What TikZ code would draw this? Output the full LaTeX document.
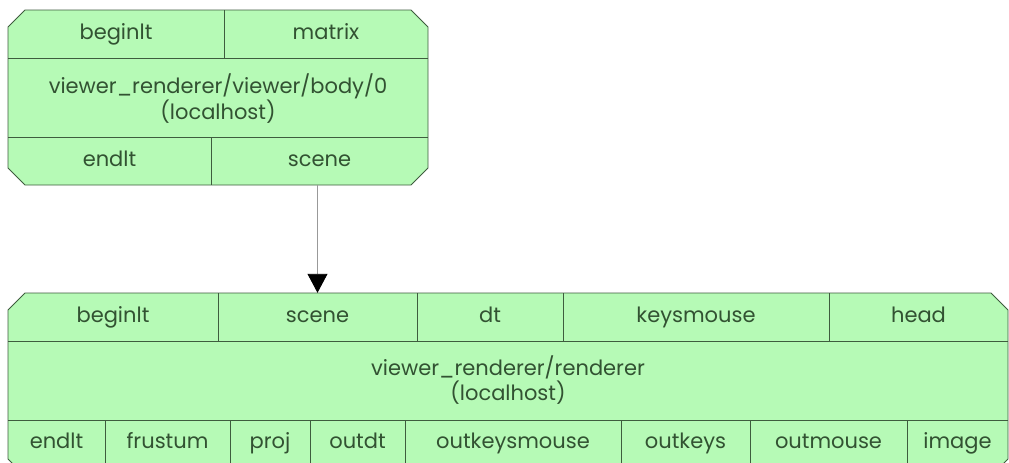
\documentclass[tikz,border=0pt]{standalone}
\usepackage{fontspec}
\setmainfont{Poppins}
\usetikzlibrary{arrows.meta}

\definecolor{cellfill}{RGB}{182,250,182}
\definecolor{cellline}{RGB}{62,92,62}
\definecolor{celltext}{RGB}{50,82,50}

\begin{document}
\begin{tikzpicture}[x=1pt, y=-1pt,
  record/.style={fill=cellfill, draw=cellline, line width=0.8pt},
  divider/.style={draw=cellline, line width=0.8pt},
  cell/.style={text=celltext, inner sep=0pt, text height=15pt, text depth=5pt,
    font=\fontsize{21}{25}\selectfont},
  link/.style={draw=gray!80, line width=0.9pt, -{Triangle[length=19pt, width=20pt, color=black]}}]
  \useasboundingbox (0,0) rectangle (1009,463);
  \clip (0,0) rectangle (1009,463);

  % viewer record
  \path[record] (25,10) -- (411,10) -- (428,27) -- (428,168) -- (411,185)
    -- (25,185) -- (8,168) -- (8,27) -- cycle;
  \draw[divider] (8,58) -- (428,58);
  \draw[divider] (8,137) -- (428,137);
  \draw[divider] (224,10) -- (224,58);
  \draw[divider] (211,137) -- (211,185);
  \node[cell] (vBeginlt) at (116,34) {beginlt};
  \node[cell] (vMatrix) at (326,34) {matrix};
  \node[cell, align=center, text height=, text depth=] (vName) at (218,99) {viewer\_renderer/viewer/body/0\\(localhost)};
  \node[cell] (vEndlt) at (109.5,161) {endlt};
  \node[cell, minimum width=217pt, minimum height=48pt] (vScene) at (319.5,161) {scene};

  % renderer record
  \path[record] (25,293) -- (991,293) -- (1008,310) -- (1008,459) -- (991,476)
    -- (25,476) -- (8,459) -- (8,310) -- cycle;
  \draw[divider] (8,341) -- (1008,341);
  \draw[divider] (8,420) -- (1008,420);
  \foreach \x in {218,417,563,829}
    \draw[divider] (\x,293) -- (\x,341);
  \foreach \x in {105,230,310,405,621,750,907}
    \draw[divider] (\x,420) -- (\x,476);
  \node[cell] (rBeginlt) at (113,317) {beginlt};
  \node[cell, minimum width=199pt, minimum height=48pt] (rScene) at (317.5,317) {scene};
  \node[cell] (rDt) at (490,317) {dt};
  \node[cell] (rKeysmouse) at (696,317) {keysmouse};
  \node[cell] (rHead) at (918.5,317) {head};
  \node[cell, align=center, text height=, text depth=] (rName) at (508,380) {viewer\_renderer/renderer\\(localhost)};
  \node[cell] (rEndlt) at (56.5,443) {endlt};
  \node[cell] (rFrustum) at (167.5,443) {frustum};
  \node[cell] (rProj) at (270,443) {proj};
  \node[cell] (rOutdt) at (357.5,443) {outdt};
  \node[cell] (rOutkeysmouse) at (513,443) {outkeysmouse};
  \node[cell] (rOutkeys) at (685.5,443) {outkeys};
  \node[cell] (rOutmouse) at (828.5,443) {outmouse};
  \node[cell] (rImage) at (957.5,443) {image};

  % scene link
  \draw[link] (vScene.south -| rScene.north) -- (rScene.north);
\end{tikzpicture}
\end{document}
